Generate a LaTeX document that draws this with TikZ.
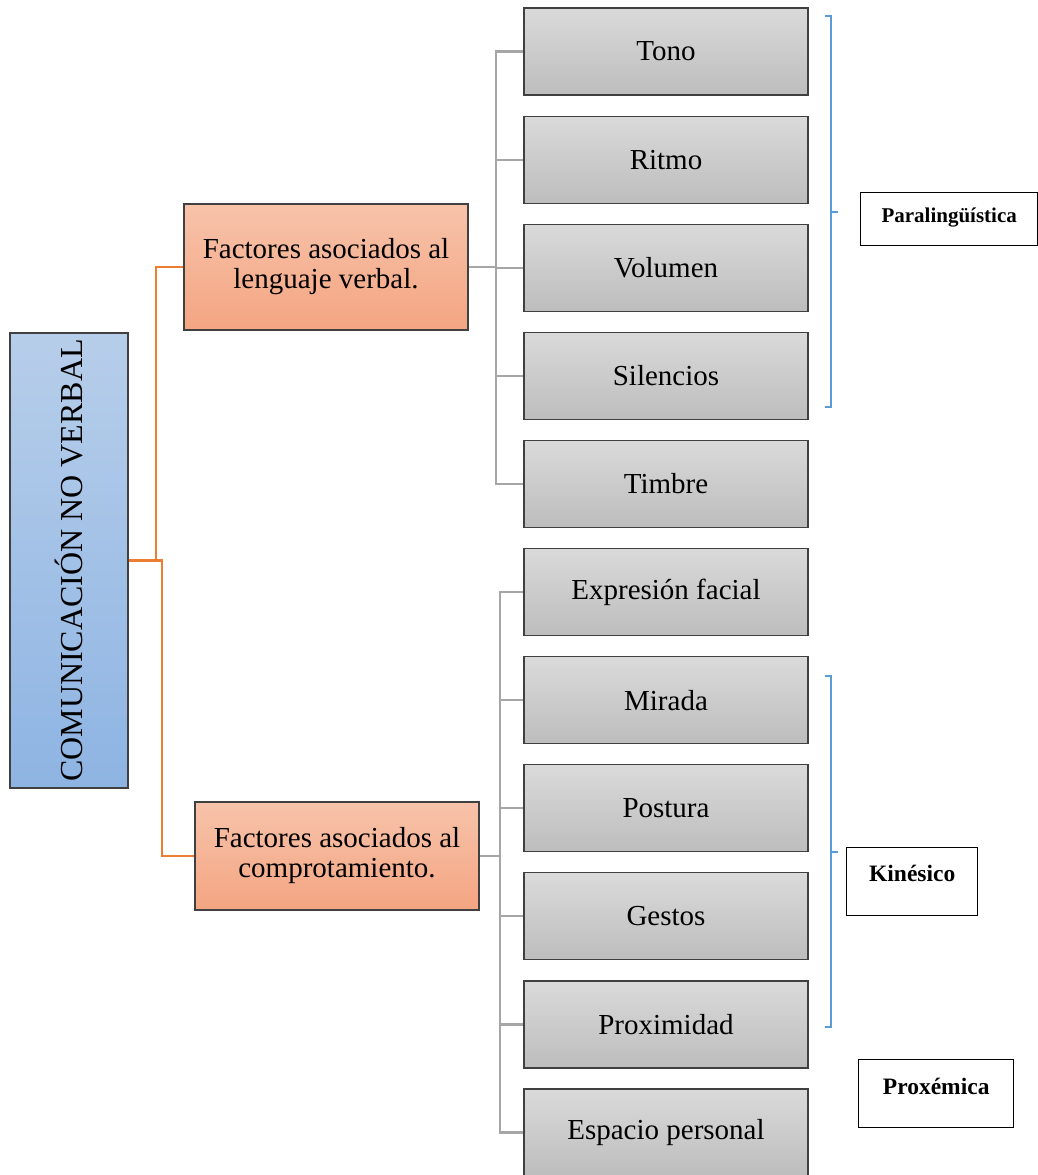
\documentclass[tikz,border=0pt]{standalone}
\usepackage{fontspec}
\setmainfont{Liberation Serif}
\usetikzlibrary{calc}

\definecolor{boxline}{HTML}{404040}
\definecolor{leaftop}{HTML}{DADADA}
\definecolor{leafbot}{HTML}{BDBDBD}
\definecolor{factop}{HTML}{F7C3AA}
\definecolor{facbot}{HTML}{F4A582}
\definecolor{roottop}{HTML}{B7CEEA}
\definecolor{rootbot}{HTML}{8EB4E3}
\definecolor{trunkgray}{HTML}{A6A6A6}
\definecolor{trunkorange}{HTML}{ED7D31}
\definecolor{bracketblue}{HTML}{5B9BD5}

\begin{document}
\begin{tikzpicture}[x=1pt,y=-1pt,
  leafbox/.style={draw=boxline,line width=1.2pt,top color=leaftop,bottom color=leafbot,
    minimum width=284pt,minimum height=87pt,inner sep=0pt,font=\fontsize{29}{32}\selectfont},
  factorbox/.style={draw=boxline,line width=1.2pt,top color=factop,bottom color=facbot,
    minimum width=284pt,inner sep=0pt,align=center,font=\fontsize{29}{30}\selectfont},
  rootbox/.style={draw=boxline,line width=1.2pt,top color=roottop,bottom color=rootbot,
    minimum width=118pt,minimum height=455pt,inner sep=0pt,font=\fontsize{32}{34}\selectfont},
  tagbox/.style={draw=black,line width=1.4pt,inner xsep=0pt,inner ysep=0pt,font=\bfseries},
  grayline/.style={draw=trunkgray,line width=2.2pt},
  orangeline/.style={draw=trunkorange,line width=2.2pt},
  bracketline/.style={draw=bracketblue,line width=1.3pt}]
\useasboundingbox (0,0) rectangle (1038,1175);

% root and the two groups
\node[rootbox] (root) at (69,560.5) {\rotatebox{90}{COMUNICACIÓN NO VERBAL}};
\node[factorbox,minimum height=126pt] (lv) at (326,267) {Factores asociados al\\lenguaje verbal.};
\node[factorbox,minimum height=108pt] (lb) at (337,856) {Factores asociados al\\comprotamiento.};

% leaves
\foreach \nm/\txt [count=\i from 0] in {tono/Tono,ritmo/Ritmo,volumen/Volumen,silencios/Silencios,
    timbre/Timbre,expresion/Expresión facial,mirada/Mirada,postura/Postura,gestos/Gestos,
    proximidad/Proximidad,espacio/Espacio personal}
  \node[leafbox] (\nm) at (666,51.5+108.1*\i) {\txt};

% connectors
\draw[orangeline] (root.east) -- ++(27,0) |- (lv.west);
\draw[orangeline] (root.east) -- ++(33,0) |- (lb.west);

\coordinate (tv) at (496,267);
\draw[grayline] (lv.east) -- (tv);
\foreach \nm in {tono,ritmo,volumen,silencios,timbre}
  \draw[grayline] (tv) |- (\nm.west);

\coordinate (tb) at (500,856);
\draw[grayline] (lb.east) -- (tb);
\foreach \nm in {expresion,mirada,postura,gestos,proximidad,espacio}
  \draw[grayline] (tb) |- (\nm.west);

% brackets
\draw[bracketline] (825,16) -- (831,16) -- (831,407) -- (825,407);
\draw[bracketline] (831,212) -- (838,212);
\draw[bracketline] (825,676) -- (831,676) -- (831,1027) -- (825,1027);
\draw[bracketline] (831,852) -- (838,852);

% tags
\node[tagbox,minimum width=177pt,text height=30pt,text depth=23pt,
  font=\bfseries\fontsize{21}{23}\selectfont,anchor=north west] (para) at (860,192) {Paralingüística};
\node[tagbox,minimum width=131pt,text height=34pt,text depth=34pt,
  font=\bfseries\fontsize{23.5}{25}\selectfont,anchor=north west] (kine) at (846,847) {Kinésico};
\node[tagbox,minimum width=155pt,text height=35pt,text depth=33pt,
  font=\bfseries\fontsize{23.5}{25}\selectfont,anchor=north west] (prox) at (858,1059) {Proxémica};
\end{tikzpicture}
\end{document}
